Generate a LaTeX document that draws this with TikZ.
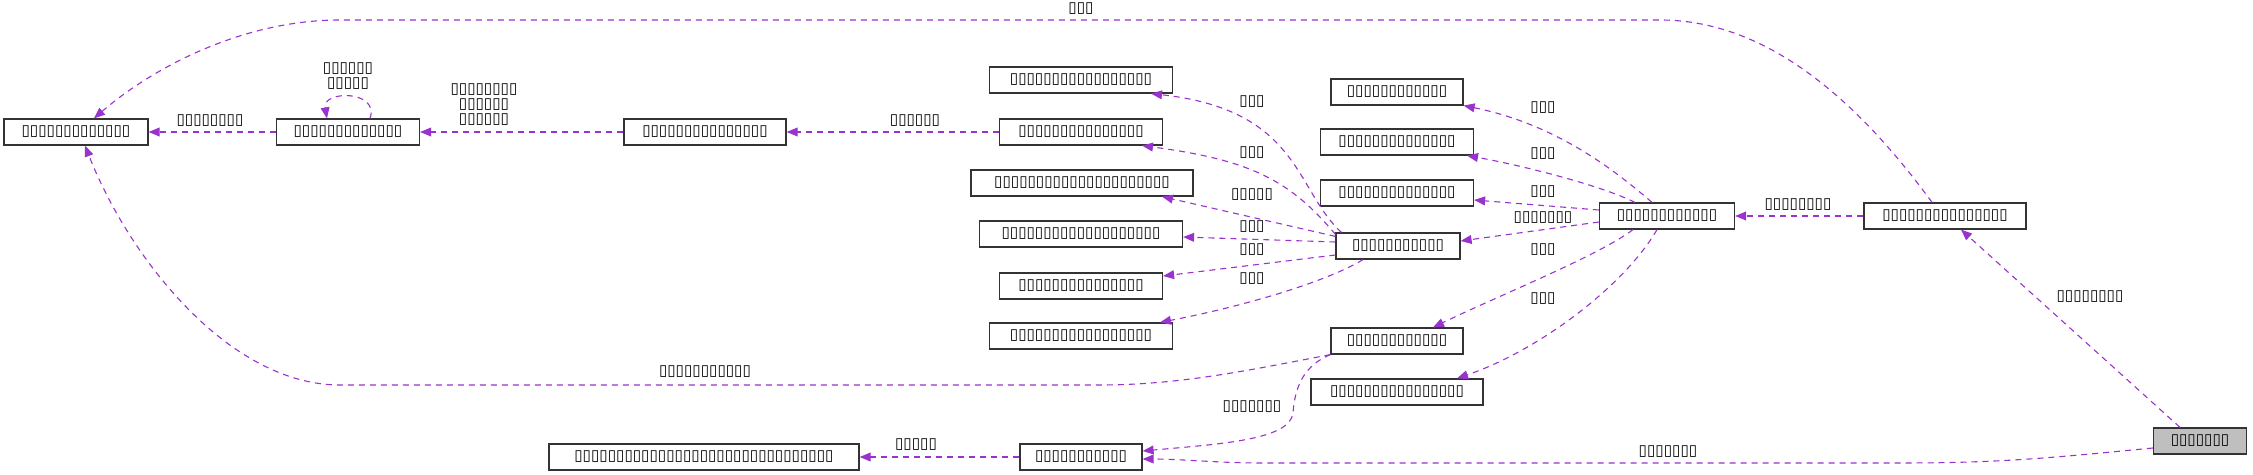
\documentclass[tikz,border=0pt]{standalone}
\usepackage{fontspec}
\setmainfont{DejaVu Sans}
\usetikzlibrary{arrows.meta}
\definecolor{edgecolor}{RGB}{154, 50, 205}
\definecolor{rootcolor}{RGB}{191, 191, 191}
\tikzset{
	classbox/.style={
		rectangle, draw=black!80, line width=0.6pt, fill=white,
		minimum height=13pt, inner sep=0pt,
		font=\fontsize{7.6pt}{7.5pt}\selectfont
	},
	usearrow/.style={
		-{Triangle[length=5.5pt, width=4.4pt]}, dashed,
		dash pattern=on 3pt off 2.5pt, line width=0.55pt, color=edgecolor
	},
	edgelabel/.style={
		inner sep=0pt, align=center, text=black,
		font=\fontsize{7.6pt}{7.5pt}\selectfont
	}
}

\begin{document}
\begin{tikzpicture}[x=0.5pt, y=-0.5pt]
	\useasboundingbox (0,0) rectangle (2253,475);
	
	%% classes, left part
	\node[classbox, minimum width=72pt]   (base) at (76,132)  {▯▯▯▯▯▯▯▯▯▯▯▯▯};
	\node[classbox, minimum width=71.5pt] (self) at (348,132) {▯▯▯▯▯▯▯▯▯▯▯▯▯};
	\node[classbox, minimum width=81pt]   (link) at (705,132) {▯▯▯▯▯▯▯▯▯▯▯▯▯▯▯};
	
	%% middle column
	\node[classbox, minimum width=91.5pt]  (mid1) at (1081,80)  {▯▯▯▯▯▯▯▯▯▯▯▯▯▯▯▯▯};
	\node[classbox, minimum width=81.5pt]  (mid2) at (1081,132) {▯▯▯▯▯▯▯▯▯▯▯▯▯▯▯};
	\node[classbox, minimum width=111pt]   (mid3) at (1082,183) {▯▯▯▯▯▯▯▯▯▯▯▯▯▯▯▯▯▯▯▯▯};
	\node[classbox, minimum width=101.5pt] (mid4) at (1081,234) {▯▯▯▯▯▯▯▯▯▯▯▯▯▯▯▯▯▯▯};
	\node[classbox, minimum width=81.5pt]  (mid5) at (1081,286) {▯▯▯▯▯▯▯▯▯▯▯▯▯▯▯};
	\node[classbox, minimum width=91.5pt]  (mid6) at (1081,336) {▯▯▯▯▯▯▯▯▯▯▯▯▯▯▯▯▯};
	
	%% hubs and side column
	\node[classbox, minimum width=62pt]   (hubl)  at (1398,246) {▯▯▯▯▯▯▯▯▯▯▯};
	\node[classbox, minimum width=66pt]   (side1) at (1397,92)  {▯▯▯▯▯▯▯▯▯▯▯▯};
	\node[classbox, minimum width=76.5pt] (side2) at (1397,142) {▯▯▯▯▯▯▯▯▯▯▯▯▯▯};
	\node[classbox, minimum width=76.5pt] (side3) at (1397,193) {▯▯▯▯▯▯▯▯▯▯▯▯▯▯};
	\node[classbox, minimum width=66pt]   (side4) at (1397,341) {▯▯▯▯▯▯▯▯▯▯▯▯};
	\node[classbox, minimum width=86pt]   (side5) at (1397,392) {▯▯▯▯▯▯▯▯▯▯▯▯▯▯▯▯};
	\node[classbox, minimum width=67.5pt] (hubm)  at (1667,216) {▯▯▯▯▯▯▯▯▯▯▯▯};
	\node[classbox, minimum width=81pt]   (hubr)  at (1945,216) {▯▯▯▯▯▯▯▯▯▯▯▯▯▯▯};
	
	%% bottom row
	\node[classbox, minimum width=46.5pt, fill=rootcolor] (root) at (2200,441) {▯▯▯▯▯▯▯};
	\node[classbox, minimum width=155pt] (low1) at (704,457)  {▯▯▯▯▯▯▯▯▯▯▯▯▯▯▯▯▯▯▯▯▯▯▯▯▯▯▯▯▯▯▯};
	\node[classbox, minimum width=61pt]  (low2) at (1081,457) {▯▯▯▯▯▯▯▯▯▯▯};
	
	%% edges, left part
	\draw[usearrow] (self.west) -- (base.east);
	\draw[usearrow] ([xshift=11pt]self.north) .. controls (380,90) and (322,90) .. ([xshift=-10.5pt]self.north);
	\draw[usearrow] (link.west) -- (self.east);
	\draw[usearrow] (mid2.west) -- (link.east);
	
	%% hubl -> middle column
	\draw[usearrow] ([xshift=3pt]hubl.north west) .. controls (1295,190) and (1300,110) .. ([xshift=35pt]mid1.south);
	\draw[usearrow] ([yshift=-1pt]hubl.north west) .. controls (1290,180) and (1250,160) .. ([xshift=30.5pt]mid2.south);
	\draw[usearrow] ([yshift=-2pt]hubl.north west) -- ([xshift=40pt]mid3.south);
	\draw[usearrow] ([yshift=2pt]hubl.west) -- ([yshift=-1.5pt]mid4.east);
	\draw[usearrow] ([yshift=-4.5pt]hubl.west) -- ([yshift=5pt]mid5.east);
	\draw[usearrow] ([xshift=-17.5pt]hubl.south) .. controls (1330,280) and (1250,305) .. ([xshift=39.5pt]mid6.north);
	
	%% hubm -> side column
	\draw[usearrow] ([xshift=-7.5pt]hubm.north) .. controls (1620,175) and (1560,125) .. (side1.south east);
	\draw[usearrow] ([xshift=-16pt]hubm.north) .. controls (1600,185) and (1520,165) .. ([xshift=35pt]side2.south);
	\draw[usearrow] ([yshift=3pt]hubm.west) -- ([yshift=-3.5pt]side3.east);
	\draw[usearrow] ([yshift=-3pt]hubm.west) -- ([yshift=2.5pt]hubl.east);
	\draw[usearrow] ([xshift=-17pt]hubm.south) .. controls (1600,255) and (1500,295) .. ([xshift=18pt]side4.north);
	\draw[usearrow] ([xshift=-5pt]hubm.south) .. controls (1625,285) and (1540,350) .. ([xshift=30pt]side5.north);
	\draw[usearrow] (hubr.west) -- (hubm.east);
	
	%% long edges
	\draw[usearrow] ([xshift=-6.5pt]hubr.north) .. controls (1850,90) and (1760,20) .. (1660,20)
		-- (340,20) .. controls (240,20) and (150,70) .. ([xshift=9pt]base.north);
	\draw[usearrow] (side4.south west) .. controls (1250,370) and (1180,385) .. (1100,385)
		-- (340,385) .. controls (230,385) and (130,260) .. ([xshift=4.5pt]base.south);
	\draw[usearrow] (side4.south west) .. controls (1305,365) and (1295,385) .. (1293,413)
		.. controls (1290,440) and (1220,444) .. ([yshift=3pt]low2.east);
	\draw[usearrow] ([yshift=-3.5pt]root.west) .. controls (2050,458) and (2000,463) .. (1900,463)
		-- (1260,463) .. controls (1220,463) and (1180,459) .. ([yshift=-1pt]low2.east);
	\draw[usearrow] ([xshift=-10pt]root.north) -- ([xshift=8pt]hubr.south);
	\draw[usearrow] (low2.west) -- (low1.east);
	
	%% edge labels
	\node[edgelabel] (lbase) at (210,121)  {▯▯▯▯▯▯▯▯};
	\node[edgelabel] (lloop) at (348,76)   {▯▯▯▯▯▯\\▯▯▯▯▯};
	\node[edgelabel] (llink) at (484,105)  {▯▯▯▯▯▯▯▯\\▯▯▯▯▯▯\\▯▯▯▯▯▯};
	\node[edgelabel] (lmid)  at (915,121)  {▯▯▯▯▯▯};
	\node[edgelabel] (lm1)   at (1252,102) {▯▯▯};
	\node[edgelabel] (lm2)   at (1252,153) {▯▯▯};
	\node[edgelabel] (lm3)   at (1252,195) {▯▯▯▯▯};
	\node[edgelabel] (lm4)   at (1252,227) {▯▯▯};
	\node[edgelabel] (lm5)   at (1252,250) {▯▯▯};
	\node[edgelabel] (lm6)   at (1252,279) {▯▯▯};
	\node[edgelabel] (ls1)   at (1543,108) {▯▯▯};
	\node[edgelabel] (ls2)   at (1543,154) {▯▯▯};
	\node[edgelabel] (ls3)   at (1543,192) {▯▯▯};
	\node[edgelabel] (lhub)  at (1543,218) {▯▯▯▯▯▯▯};
	\node[edgelabel] (ls4)   at (1543,250) {▯▯▯};
	\node[edgelabel] (ls5)   at (1543,299) {▯▯▯};
	\node[edgelabel] (lhubm) at (1798,205) {▯▯▯▯▯▯▯▯};
	\node[edgelabel] (ltop)  at (1081,9)   {▯▯▯};
	\node[edgelabel] (lbot)  at (705,372)  {▯▯▯▯▯▯▯▯▯▯▯};
	\node[edgelabel] (llowa) at (1252,407) {▯▯▯▯▯▯▯};
	\node[edgelabel] (lrtl)  at (1668,452) {▯▯▯▯▯▯▯};
	\node[edgelabel] (lrth)  at (2090,297) {▯▯▯▯▯▯▯▯};
	\node[edgelabel] (llow)  at (916,445)  {▯▯▯▯▯};
\end{tikzpicture}
\end{document}
